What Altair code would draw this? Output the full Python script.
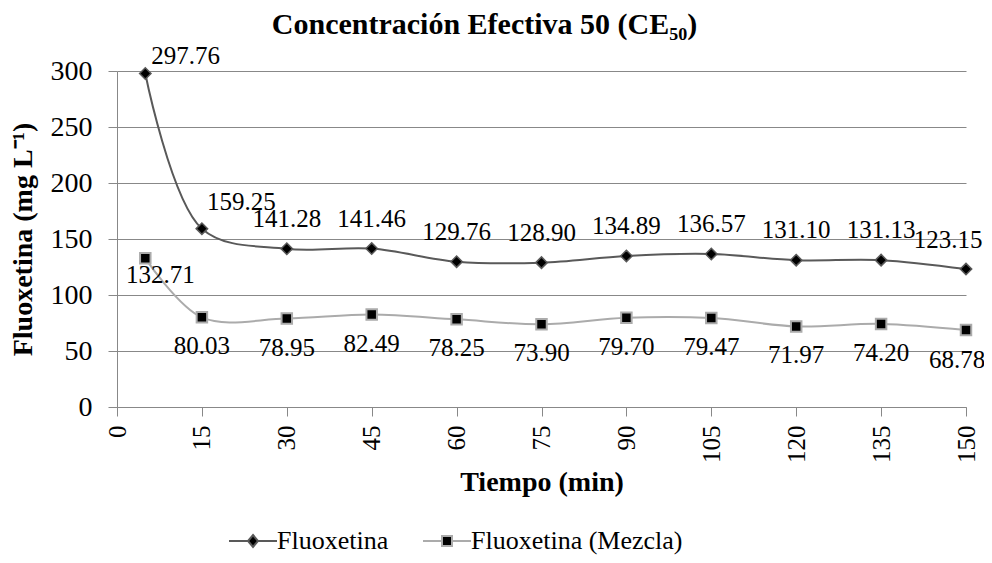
import altair as alt
import pandas as pd

# ---- data ----
time_min = [5, 15, 30, 45, 60, 75, 90, 105, 120, 135, 150]
fluoxetina = [297.76, 159.25, 141.28, 141.46, 129.76, 128.90, 134.89, 136.57, 131.10, 131.13, 123.15]
mezcla = [132.71, 80.03, 78.95, 82.49, 78.25, 73.90, 79.70, 79.47, 71.97, 74.20, 68.78]
series_names = ["Fluoxetina", "Fluoxetina (Mezcla)"]
x_ticks = [0, 15, 30, 45, 60, 75, 90, 105, 120, 135, 150]
y_ticks = [0, 50, 100, 150, 200, 250, 300]

rows = []
for name, vals in zip(series_names, [fluoxetina, mezcla]):
    for i, (t, v) in enumerate(zip(time_min, vals)):
        rows.append({"t": t, "v": v, "s": name, "i": i, "lab": f"{v:.2f}"})
df = pd.DataFrame(rows)

FONT = "Liberation Serif"
GRID = "#888888"
LINE_COLORS = ["#595959", "#ababab"]

diamond_leg = "M-1,0H2.8M4.8,0H8.6M3.8,-1.2L4.8,0L3.8,1.2L2.8,0Z"
square_leg = "M-1,0H2.8M4.8,0H8.6M2.8,-1H4.8V1H2.8Z"

stroke_scale = alt.Scale(domain=series_names, range=LINE_COLORS)
leg = alt.Legend(title=None)

x_enc = alt.X(
    "t:Q",
    scale=alt.Scale(domain=[0, 150], nice=False),
    axis=alt.Axis(
        values=x_ticks, labelAngle=270, grid=False, title="Tiempo (min)",
        labelFont=FONT, labelFontSize=25, labelColor="black", labelPadding=9,
        tickSize=9, tickColor=GRID, domainColor=GRID,
        titleFont=FONT, titleFontSize=28, titleFontWeight="bold", titleColor="black",
        titleBaseline="alphabetic", titleY=83,
    ),
)
y_enc = alt.Y(
    "v:Q",
    scale=alt.Scale(domain=[0, 300], nice=False),
    axis=alt.Axis(
        values=y_ticks, grid=True, gridColor=GRID, title="Fluoxetina (mg L⁻¹)",
        labelFont=FONT, labelFontSize=28, labelColor="black", labelPadding=16,
        tickSize=9, tickColor=GRID, domainColor=GRID,
        titleFont=FONT, titleFontSize=28, titleFontWeight="bold", titleColor="black",
        titleBaseline="alphabetic", titleAngle=270, titleX=-86, titleY=168,
    ),
)

base = alt.Chart(df)

lines = base.mark_line(interpolate="catmull-rom", strokeWidth=2).encode(
    x=x_enc, y=y_enc,
    stroke=alt.Stroke("s:N", scale=stroke_scale, legend=leg),
    detail="s:N",
)

pts_f = base.transform_filter(alt.datum.s == "Fluoxetina").mark_point(
    shape="diamond", filled=True, fill="black", strokeWidth=1.5, opacity=1, size=130
).encode(x="t:Q", y="v:Q", stroke=alt.Stroke("s:N", legend=leg))

pts_m = base.transform_filter(alt.datum.s == "Fluoxetina (Mezcla)").mark_point(
    shape="square", filled=True, fill="black", strokeWidth=2, opacity=1, size=110
).encode(x="t:Q", y="v:Q", stroke=alt.Stroke("s:N", legend=leg))

# legend-only layer (no rows pass the filter; the legend comes from the scales)
legend_layer = base.transform_filter("false").mark_point(
    filled=True, fill="black", strokeWidth=2, size=100
).encode(
    x="t:Q", y="v:Q",
    stroke=alt.Stroke("s:N", legend=leg),
    shape=alt.Shape("s:N", scale=alt.Scale(domain=series_names, range=[diamond_leg, square_leg]),
                    legend=leg),
)

txt = dict(font=FONT, fontSize=25, color="black", baseline="middle")
fl = alt.datum.s == "Fluoxetina"
mz = alt.datum.s == "Fluoxetina (Mezcla)"

lab_f_mid = base.transform_filter(fl & (alt.datum.i >= 2) & (alt.datum.i <= 9)).mark_text(
    align="center", dy=-30, **txt).encode(x="t:Q", y="v:Q", text="lab:N")
lab_f0 = base.transform_filter(fl & (alt.datum.i == 0)).mark_text(
    align="left", dx=6, dy=-18, **txt).encode(x="t:Q", y="v:Q", text="lab:N")
lab_f1 = base.transform_filter(fl & (alt.datum.i == 1)).mark_text(
    align="left", dx=5, dy=-27, **txt).encode(x="t:Q", y="v:Q", text="lab:N")
lab_f10 = base.transform_filter(fl & (alt.datum.i == 10)).mark_text(
    align="center", dx=-18, dy=-29, **txt).encode(x="t:Q", y="v:Q", text="lab:N")
lab_m_mid = base.transform_filter(mz & (alt.datum.i >= 1) & (alt.datum.i <= 9)).mark_text(
    align="center", dy=29, **txt).encode(x="t:Q", y="v:Q", text="lab:N")
lab_m0 = base.transform_filter(mz & (alt.datum.i == 0)).mark_text(
    align="center", dx=15, dy=17, **txt).encode(x="t:Q", y="v:Q", text="lab:N")
lab_m10 = base.transform_filter(mz & (alt.datum.i == 10)).mark_text(
    align="center", dx=-9, dy=30, **txt).encode(x="t:Q", y="v:Q", text="lab:N")

chart = alt.layer(
    lines, pts_f, pts_m, legend_layer,
    lab_f_mid, lab_f0, lab_f1, lab_f10, lab_m_mid, lab_m0, lab_m10
).properties(
    width=849, height=336,
    title=alt.TitleParams(
        "Concentración Efectiva 50 (CE₅₀)", font=FONT, fontSize=30, fontWeight="bold",
        color="black", anchor="middle", frame="group", baseline="alphabetic", offset=-20, dx=-57,
    ),
    padding={"left": 109, "top": 63, "right": 18, "bottom": 148},
    autosize=alt.AutoSizeParams(type="none"),
).configure_view(stroke=None).configure_legend(
    orient="none", direction="horizontal", legendX=104, legendY=457,
    labelFont=FONT, labelFontSize=26, labelColor="black", labelOffset=30, labelLimit=400,
    symbolSize=100, symbolStrokeWidth=2, symbolFillColor="black",
    columnPadding=26, padding=0,
)

chart.save("out.html", embed_options={"renderer": "svg", "actions": False})
